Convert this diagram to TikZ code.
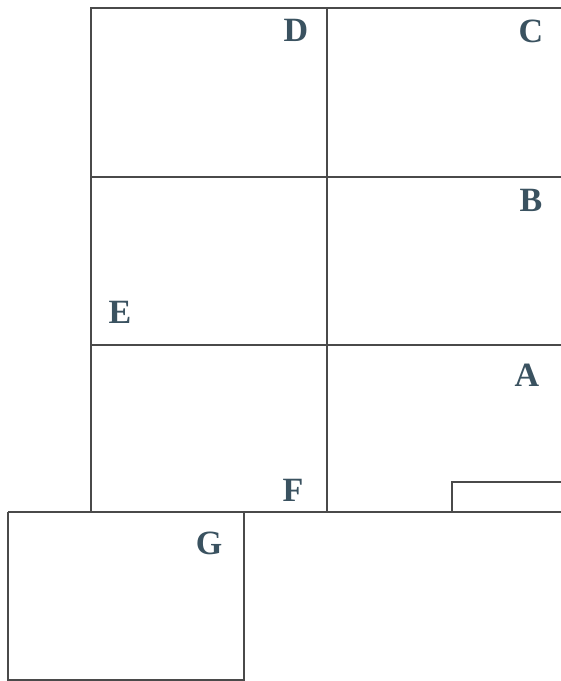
\documentclass[tikz,border=0pt]{standalone}
\usepackage{fontspec}
\setmainfont{Liberation Serif}
\definecolor{lineC}{HTML}{4A4A4A}
\definecolor{letterC}{HTML}{3A5260}
\begin{document}
\begin{tikzpicture}[x=1pt,y=-1pt,
  wall/.style={draw=lineC,line width=1.4pt},
  lbl/.style={text=letterC,font=\bfseries\fontsize{34}{34}\selectfont,inner sep=0pt,anchor=center}]
\useasboundingbox[fill=white] (0,0) rectangle (561,681);
% coordinates
\coordinate (tl) at (91,8);
\coordinate (tm) at (327,8);
\coordinate (tr) at (561,8);
\coordinate (l1) at (91,177);
\coordinate (r1) at (561,177);
\coordinate (l2) at (91,345);
\coordinate (r2) at (561,345);
\coordinate (l3) at (91,512);
\coordinate (m3) at (327,512);
\coordinate (r3) at (561,512);
\coordinate (g1) at (8,512);
\coordinate (g2) at (244,512);
\coordinate (g3) at (244,680);
\coordinate (g4) at (8,680);
\coordinate (gb) at (244,681);
\coordinate (s1) at (452,512);
\coordinate (s2) at (452,482);
\coordinate (s3) at (561,482);
% walls
\draw[wall] (tr) -- (tl) -- (l3);
\draw[wall] (tm) -- (m3);
\draw[wall] (l1) -- (r1);
\draw[wall] (l2) -- (r2);
\draw[wall] (g1) -- (r3);
\draw[wall] (g1) -- (g4) -- (g3);
\draw[wall] (g2) -- (gb);
\draw[wall] (s1) -- (s2) -- (s3);
% labels
\node[lbl] (D) at (296,30) {D};
\node[lbl] (C) at (531,31) {C};
\node[lbl] (B) at (531,200) {B};
\node[lbl] (E) at (120,312) {E};
\node[lbl] (A) at (527,375) {A};
\node[lbl] (F) at (293,490) {F};
\node[lbl] (G) at (209,543) {G};
\end{tikzpicture}
\end{document}
